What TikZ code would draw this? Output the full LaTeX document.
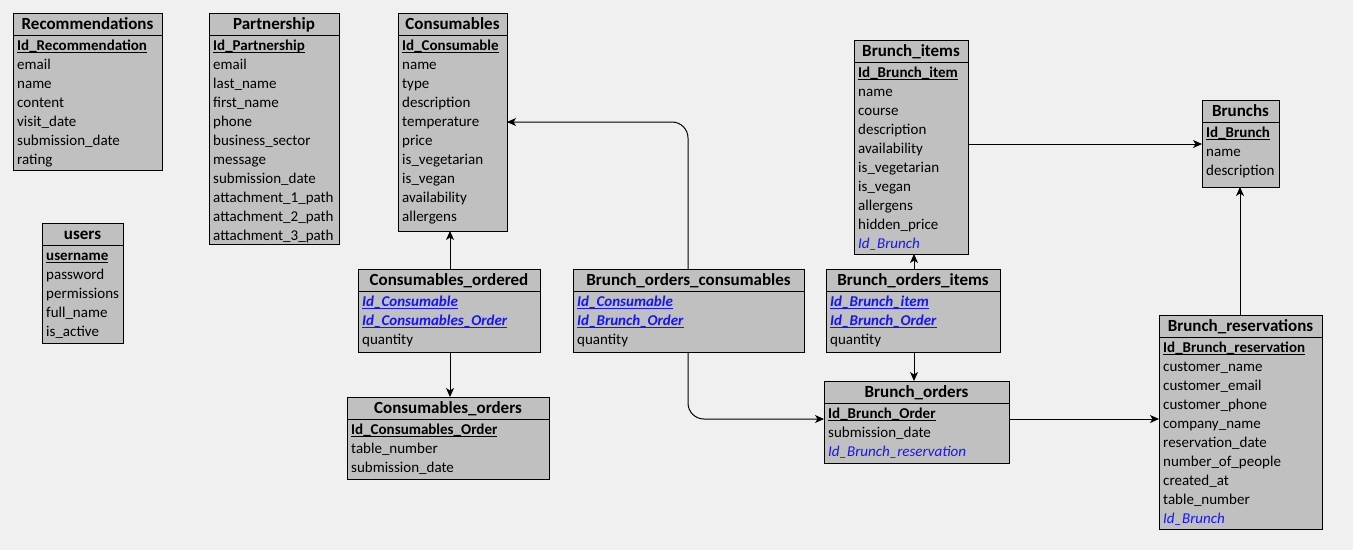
\documentclass[tikz,border=0pt]{standalone}
\usepackage{fontspec}
\setmainfont{Carlito}
\usetikzlibrary{arrows.meta}
\definecolor{bg}{HTML}{F0F0F0}
\definecolor{boxfill}{HTML}{C0C0C0}
\definecolor{fkblue}{HTML}{1414FF}
\newcommand\ulx[1]{\setbox0\hbox{#1}\rlap{\rule[-3pt]{\wd0}{1pt}}\box0}
\newcommand\pk[1]{\ulx{\bfseries #1}}
\newcommand\fk[1]{{\color{fkblue}\itshape #1}}
\newcommand\fpk[1]{{\color{fkblue}\ulx{\bfseries\itshape #1}}}
\tikzset{
  tbl/.style={draw=black, fill=boxfill, line width=1pt, inner sep=0pt, outer sep=0pt},
  sepline/.style={line width=1pt},
  head/.style={anchor=base, inner sep=0pt, font=\fontsize{17}{19}\selectfont\bfseries},
  rowtxt/.style={anchor=base west, inner sep=0pt, font=\fontsize{15}{17}\selectfont},
  conn/.style={line width=1pt, -{Stealth[length=9pt,width=8pt,inset=2.5pt]}},
}
% #1 name, #2 x1, #3 y1, #4 x2, #5 y2, #6 title, #7 rows
\newcommand\ertable[7]{%
  \node[tbl, minimum width={(#4-#2)*1pt}, minimum height={(#5-#3)*1pt}] (#1) at ({(#2+#4)/2},{(#3+#5)/2}) {};
  \draw[sepline] (#2,#3+22) -- (#4,#3+22);
  \node[head] (#1-title) at ({(#2+#4)/2},#3+16.5) {#6};
  \foreach \t [count=\i from 0] in {#7} {
    \node[rowtxt] (#1-\i) at (#2+4,#3+37+19*\i) {\t};
  }
}
\begin{document}
\begin{tikzpicture}[x=1pt,y=-1pt]
\useasboundingbox (0,0) rectangle (1353,550);
\fill[bg] (0,0) rectangle (1353,550);

\ertable{rec}{13}{13}{162}{170}{Recommendations}{\pk{Id\_Recommendation},email,name,content,visit\_date,submission\_date,rating}
\ertable{part}{209}{13}{339}{244}{Partnership}{\pk{Id\_Partnership},email,last\_name,first\_name,phone,business\_sector,message,submission\_date,attachment\_1\_path,attachment\_2\_path,attachment\_3\_path}
\ertable{cons}{398}{13}{507}{231}{Consumables}{\pk{Id\_Consumable},name,type,description,temperature,price,is\_vegetarian,is\_vegan,availability,allergens}
\ertable{users}{42}{223}{123}{343}{users}{\pk{username},password,permissions,full\_name,is\_active}
\ertable{bitems}{854}{40}{968}{254}{Brunch\_items}{\pk{Id\_Brunch\_item},name,course,description,availability,is\_vegetarian,is\_vegan,allergens,hidden\_price,\fk{Id\_Brunch}}
\ertable{brunchs}{1202}{100}{1279}{187}{Brunchs}{\pk{Id\_Brunch},name,description}
\ertable{cord}{358}{269}{540}{352}{Consumables\_ordered}{\fpk{Id\_Consumable},\fpk{Id\_Consumables\_Order},quantity}
\ertable{boc}{573}{269}{804}{352}{Brunch\_orders\_consumables}{\fpk{Id\_Consumable},\fpk{Id\_Brunch\_Order},quantity}
\ertable{boi}{826}{269}{1000}{352}{Brunch\_orders\_items}{\fpk{Id\_Brunch\_item},\fpk{Id\_Brunch\_Order},quantity}
\ertable{corders}{347}{397}{549}{479}{Consumables\_orders}{\pk{Id\_Consumables\_Order},table\_number,submission\_date}
\ertable{border}{824}{381}{1009}{463}{Brunch\_orders}{\pk{Id\_Brunch\_Order},submission\_date,\fk{Id\_Brunch\_reservation}}
\ertable{bres}{1159}{315}{1322}{529}{Brunch\_reservations}{\pk{Id\_Brunch\_reservation},customer\_name,customer\_email,customer\_phone,company\_name,reservation\_date,number\_of\_people,created\_at,table\_number,\fk{Id\_Brunch}}

\draw[conn] (cord.north -| 450,0) -- (cons.south -| 450,0);
\draw[conn] (cord.south -| 450,0) -- (corders.north -| 450,0);
\draw[conn, rounded corners=16pt] (boc.north -| 688,0) |- (cons.east |- 0,122);
\draw[conn, rounded corners=16pt] (boc.south -| 688,0) |- (border.west |- 0,419);
\draw[conn] (boi.north -| 914,0) -- (bitems.south -| 914,0);
\draw[conn] (boi.south -| 914,0) -- (border.north -| 914,0);
\draw[conn] (bitems.east |- 0,144) -- (brunchs.west |- 0,144);
\draw[conn] (bres.north -| 1240,0) -- (brunchs.south -| 1240,0);
\draw[conn] (border.east |- 0,419) -- (bres.west |- 0,419);
\end{tikzpicture}
\end{document}
